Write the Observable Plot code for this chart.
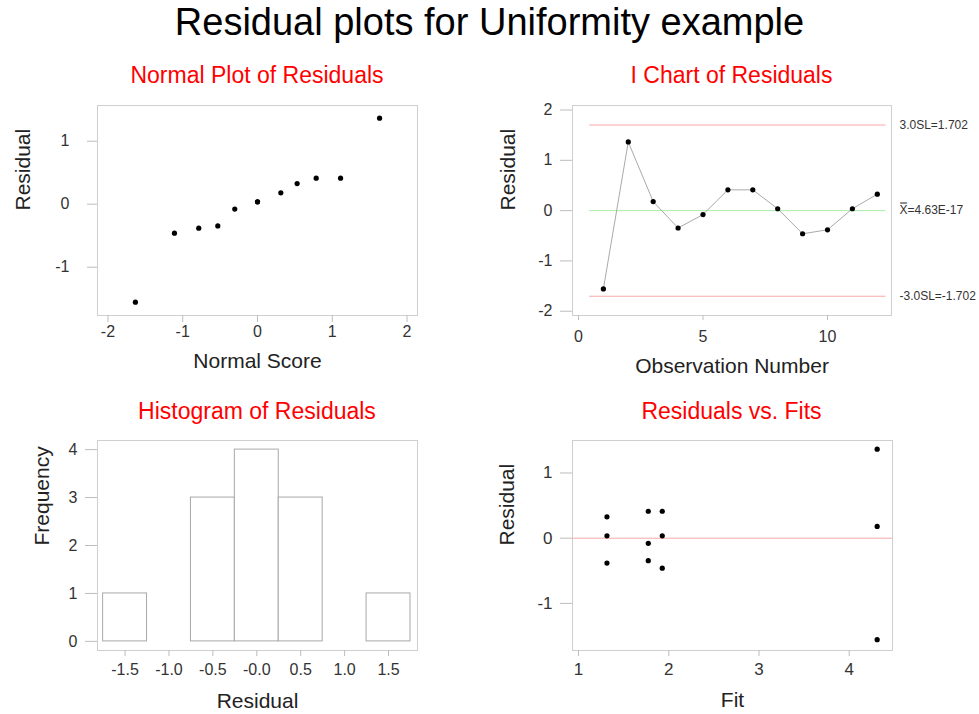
<!DOCTYPE html>
<html>
<head>
<meta charset="utf-8">
<script src="https://cdn.jsdelivr.net/npm/d3@7"></script>
<script src="https://cdn.jsdelivr.net/npm/@observablehq/plot@0.6"></script>
<style>
  html, body { margin: 0; padding: 0; background: #fff; }
  #page { position: relative; width: 979px; height: 714px; background: #fff; font-family: "Liberation Sans", Arial, sans-serif; overflow: hidden; }
  .abs { position: absolute; }
  .maintitle { left: 0; top: 0; width: 979px; text-align: center; font-size: 38px; line-height: 44px; color: #000; }
  .subtitle { text-align: center; font-size: 23px; line-height: 30px; color: #ff0000; white-space: nowrap; }
</style>
</head>
<body>
<div id="page">
  <div class="abs maintitle">Residual plots for Uniformity example</div>
</div>
<script>
// ---------------- data ----------------
const observation = [1, 2, 3, 4, 5, 6, 7, 8, 9, 10, 11, 12];
const residual    = [-1.556, 1.365, 0.18, -0.345, -0.078, 0.413, 0.413, 0.037, -0.46, -0.381, 0.037, 0.328];
const normalScore = [-1.633, 1.633, 0.312, -0.531, -0.304, 0.785, 1.111, 0, -1.111, -0.786, 0, 0.53];
const fit         = [4.31, 4.31, 4.31, 1.773, 1.773, 1.773, 1.928, 1.928, 1.928, 1.315, 1.315, 1.315];

const controlLimitValues = [1.702, 4.63e-17, -1.702];
const controlLimitLabels = ["3.0SL=1.702", "X\u033F=4.63E-17", "-3.0SL=-1.702"];
const controlLimitKinds  = ["limit", "center", "limit"];
const controlLimitSpan   = [0.45, 12.35];

const histEdges      = [-1.75, -1.25, -0.75, -0.25, 0.25, 0.75, 1.25, 1.75];
const histTickValues = [-1.5, -1, -0.5, 0, 0.5, 1, 1.5];
const histTickLabels = ["-1.5", "-1.0", "-0.5", "-0.0", "0.5", "1.0", "1.5"];

const subTitles = ["Normal Plot of Residuals", "I Chart of Residuals", "Histogram of Residuals", "Residuals vs. Fits"];

// ---------------- derived tables ----------------
const rows = observation.map((o, i) => ({obs: o, residual: residual[i], normalScore: normalScore[i], fit: fit[i]}));
const limits = controlLimitValues.map((v, i) => ({value: v, label: controlLimitLabels[i], kind: controlLimitKinds[i]}));
const bins = d3.bin().domain([histEdges[0], histEdges[histEdges.length - 1]])
  .thresholds(histEdges.slice(1, -1))(residual).filter(b => b.length > 0);

// ---------------- styling ----------------
const FONT = "'Liberation Sans', Arial, sans-serif";
const FRAME = "#cfcfcf";
const TICK = "#bdbdbd";
const TICKTEXT = "#333";
const LABEL = "#222";
const RED = "#f6a9a9";
const GREEN = "#a9eca9";
const intFmt = d => String(d);

const page = document.getElementById("page");

function place(node, left, top) {
  node.classList.add("abs");
  node.style.left = left + "px";
  node.style.top = top + "px";
  page.appendChild(node);
}
function subtitle(text, cx, cy) {
  const d = document.createElement("div");
  d.className = "subtitle abs";
  d.textContent = text;
  d.style.left = (cx - 200) + "px";
  d.style.width = "400px";
  d.style.top = (cy - 15) + "px";
  page.appendChild(d);
}
function axisLabels(xl, yl, dy, dx) {
  return [
    Plot.text([xl], {text: d => d, frameAnchor: "bottom", dy: dy, fontSize: 21, fill: LABEL, lineAnchor: "middle"}),
    Plot.text([yl], {text: d => d, frameAnchor: "left", dx: dx, rotate: -90, fontSize: 21, fill: LABEL, lineAnchor: "middle"})
  ];
}

// ---------- Panel 1: Normal plot ----------
{
  const p = Plot.plot({
    width: 440, height: 290,
    marginLeft: 97, marginRight: 23, marginTop: 15, marginBottom: 65,
    style: {fontFamily: FONT, background: "transparent"},
    x: {domain: [-2.14, 2.14]},
    y: {domain: [-1.767, 1.567]},
    marks: [
      Plot.frame({stroke: FRAME}),
      Plot.axisX({ticks: [-2, -1, 0, 1, 2], tickFormat: intFmt, tickSize: 7, tickPadding: 3, fontSize: 16, stroke: TICK, fill: TICKTEXT, label: null}),
      Plot.axisY({ticks: [-1, 0, 1], tickFormat: intFmt, tickSize: 10, tickPadding: 18, fontSize: 16, stroke: TICK, fill: TICKTEXT, label: null}),
      Plot.dot(rows, {x: "normalScore", y: "residual", r: 2.6, fill: "#000", stroke: null}),
      ...axisLabels("Normal Score", "Residual", 46, -74)
    ]
  });
  place(p, 0, 90);
  subtitle(subTitles[0], 257, 75);
}

// ---------- Panel 2: I chart ----------
{
  const p = Plot.plot({
    width: 489, height: 290,
    marginLeft: 82, marginRight: 88, marginTop: 15, marginBottom: 65,
    style: {fontFamily: FONT, background: "transparent", overflow: "visible"},
    x: {domain: [-0.24, 12.57]},
    y: {domain: [-2.085, 2.09]},
    marks: [
      Plot.frame({stroke: FRAME}),
      Plot.axisX({ticks: [0, 5, 10], tickFormat: intFmt, tickSize: 5, tickPadding: 10, fontSize: 16, stroke: TICK, fill: TICKTEXT, label: null}),
      Plot.axisY({ticks: [-2, -1, 0, 1, 2], tickFormat: intFmt, tickSize: 12, tickPadding: 8, fontSize: 16, stroke: TICK, fill: TICKTEXT, label: null}),
      Plot.ruleY(limits, {y: "value", x1: controlLimitSpan[0], x2: controlLimitSpan[1], stroke: d => d.kind === "center" ? GREEN : RED, strokeWidth: 1}),
      Plot.line(rows, {x: "obs", y: "residual", stroke: "#aaa", strokeWidth: 1}),
      Plot.dot(rows, {x: "obs", y: "residual", r: 2.6, fill: "#000", stroke: null}),
      Plot.text(limits, {y: "value", text: "label", frameAnchor: "right", dx: 8, textAnchor: "start", fontSize: 12, fill: "#333"}),
      ...axisLabels("Observation Number", "Residual", 51, -64)
    ]
  });
  place(p, 490, 90);
  subtitle(subTitles[1], 731.5, 75);
}

// ---------- Panel 3: Histogram ----------
{
  const p = Plot.plot({
    width: 440, height: 284,
    marginLeft: 97, marginRight: 23, marginTop: 10, marginBottom: 64,
    style: {fontFamily: FONT, background: "transparent"},
    x: {domain: [-1.814, 1.83]},
    y: {domain: [-0.19, 4.19]},
    marks: [
      Plot.frame({stroke: FRAME}),
      Plot.axisX({ticks: histTickValues, tickFormat: (d, i) => histTickLabels[i], tickSize: 6, tickPadding: 7, fontSize: 16, stroke: TICK, fill: TICKTEXT, label: null}),
      Plot.axisY({ticks: [0, 1, 2, 3, 4], tickFormat: intFmt, tickSize: 12, tickPadding: 8, fontSize: 16, stroke: TICK, fill: TICKTEXT, label: null}),
      Plot.rectY(bins, {x1: d => d.x0, x2: d => d.x1, y1: 0, y2: d => d.length, fill: "#fff", stroke: "#a8a8a8", strokeWidth: 1, inset: 0}),
      ...axisLabels("Residual", "Frequency", 51, -55)
    ]
  });
  place(p, 0, 430);
  subtitle(subTitles[2], 257, 411);
}

// ---------- Panel 4: Residuals vs Fits ----------
{
  const p = Plot.plot({
    width: 489, height: 284,
    marginLeft: 82, marginRight: 87, marginTop: 10, marginBottom: 64,
    style: {fontFamily: FONT, background: "transparent"},
    x: {domain: [0.933, 4.48]},
    y: {domain: [-1.722, 1.498]},
    marks: [
      Plot.frame({stroke: FRAME}),
      Plot.axisX({ticks: [1, 2, 3, 4], tickFormat: intFmt, tickSize: 6, tickPadding: 6, fontSize: 17, stroke: TICK, fill: TICKTEXT, label: null}),
      Plot.axisY({ticks: [-1, 0, 1], tickFormat: intFmt, tickSize: 12, tickPadding: 8, fontSize: 17, stroke: TICK, fill: TICKTEXT, label: null}),
      Plot.ruleY([0], {stroke: RED, strokeWidth: 1}),
      Plot.dot(rows, {x: "fit", y: "residual", r: 2.6, fill: "#000", stroke: null}),
      ...axisLabels("Fit", "Residual", 50, -65)
    ]
  });
  place(p, 490, 430);
  subtitle(subTitles[3], 731.5, 411);
}
</script>
</body>
</html>
